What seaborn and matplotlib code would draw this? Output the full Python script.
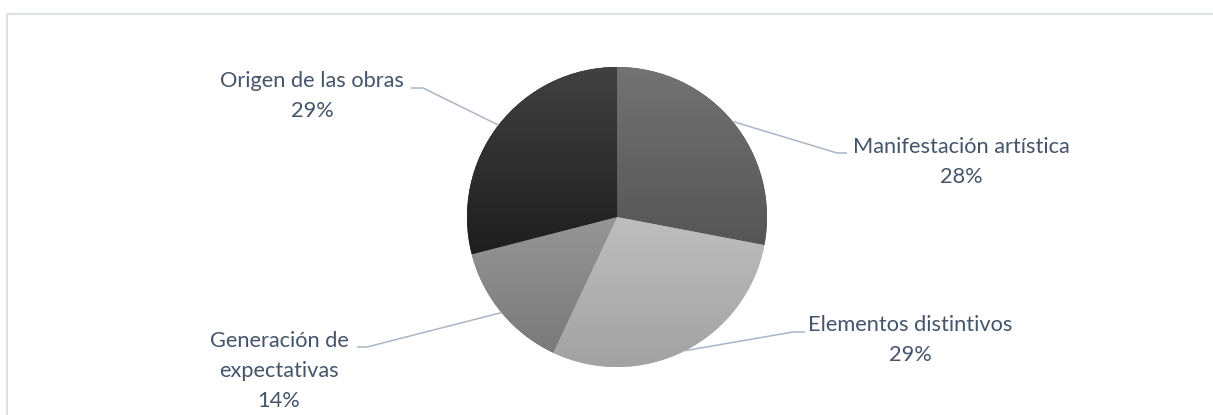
import matplotlib
matplotlib.use('Agg')
import matplotlib.pyplot as plt
import numpy as np
import seaborn as sns
from matplotlib.colors import LinearSegmentedColormap

# datos del gráfico
categorias = ['Manifestación artística', 'Elementos distintivos',
              'Generación de\nexpectativas', 'Origen de las obras']
porcentajes = [28, 29, 14, 29]

# degradado de cada porción (arriba -> abajo)
tonos_arriba = ['#737373', '#bebebe', '#969696', '#414141']
tonos_abajo = ['#555555', '#a2a2a2', '#7a7a7a', '#1e1e1e']

sns.set_style('white')
plt.rcParams['font.family'] = ['Lato', 'DejaVu Sans']

W, H = 1213, 415
fig = plt.figure(figsize=(W / 100, H / 100), dpi=100)
ax = fig.add_axes([0, 0, 1, 1])

centro = (617, H - 217)
radio = 150
cunas, _ = ax.pie(porcentajes, startangle=90, counterclock=False,
                  center=centro, radius=radio, colors=tonos_abajo,
                  wedgeprops=dict(edgecolor='none', linewidth=0))

for cuna, c1, c2 in zip(cunas, tonos_arriba, tonos_abajo):
    ext = cuna.get_path().get_extents()
    cmap = LinearSegmentedColormap.from_list('g', [c1, c2])
    grad = np.linspace(0, 1, 256).reshape(-1, 1)
    im = ax.imshow(grad, extent=[ext.x0, ext.x1, ext.y0, ext.y1],
                   origin='upper', cmap=cmap, aspect='auto', zorder=2)
    im.set_clip_path(cuna)

# posiciones de las etiquetas (codo de la guía, fin de la guía, centro del texto) en píxeles
codos = [(837, 153), (793, 332), (367, 347), (423, 88)]
finales = [(847, 153), (805, 332), (357, 347), (411, 88)]
textos_xy = [(961, 162), (910, 340), (279, 371), (312, 96)]

color_guia = '#A9B6C8'
color_texto = '#44546A'

for cuna, cat, pct, codo, fin, txy in zip(cunas, categorias, porcentajes,
                                          codos, finales, textos_xy):
    ang = np.deg2rad((cuna.theta1 + cuna.theta2) / 2)
    bx = centro[0] + radio * np.cos(ang)
    by = centro[1] + radio * np.sin(ang)
    ax.plot([bx, codo[0], fin[0]], [by, H - codo[1], H - fin[1]],
            color=color_guia, lw=1.1, zorder=3, solid_capstyle='butt')
    ax.text(txy[0], H - txy[1], f'{cat}\n{pct}%', ha='center', va='center',
            multialignment='center', fontsize=15.7, color=color_texto,
            linespacing=1.6, zorder=4)

# marco del área del gráfico
ax.plot([7, W + 5], [H - 14, H - 14], color='#DEE2E7', lw=1.5, zorder=1)
ax.plot([7, 7], [H - 14, -5], color='#DEE2E7', lw=1.5, zorder=1)

ax.set_xlim(0, W)
ax.set_ylim(0, H)
ax.set_aspect('equal')
ax.axis('off')

fig.savefig('out.png', dpi=100, facecolor='white')
